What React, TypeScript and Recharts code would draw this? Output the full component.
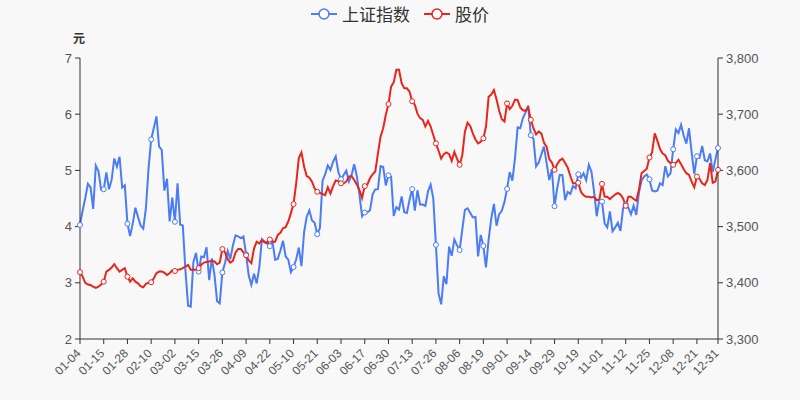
import React from 'react';
import { LineChart, Line, XAxis, YAxis } from 'recharts';

// Trading days of 2021 by month
const janDays = [4, 5, 6, 7, 8, 11, 12, 13, 14, 15, 18, 19, 20, 21, 22, 25, 26, 27, 28, 29];
const febDays = [1, 2, 3, 4, 5, 8, 9, 10, 18, 19, 22, 23, 24, 25, 26];
const marDays = [1, 2, 3, 4, 5, 8, 9, 10, 11, 12, 15, 16, 17, 18, 19, 22, 23, 24, 25, 26, 29, 30, 31];
const aprDays = [1, 2, 6, 7, 8, 9, 12, 13, 14, 15, 16, 19, 20, 21, 22, 23, 26, 27, 28, 29, 30];
const mayDays = [6, 7, 10, 11, 12, 13, 14, 17, 18, 19, 20, 21, 24, 25, 26, 27, 28, 31];
const junDays = [1, 2, 3, 4, 7, 8, 9, 10, 11, 15, 16, 17, 18, 21, 22, 23, 24, 25, 28, 29, 30];
const julDays = [1, 2, 5, 6, 7, 8, 9, 12, 13, 14, 15, 16, 19, 20, 21, 22, 23, 26, 27, 28, 29, 30];
const augDays = [2, 3, 4, 5, 6, 9, 10, 11, 12, 13, 16, 17, 18, 19, 20, 23, 24, 25, 26, 27, 30, 31];
const sepDays = [1, 2, 3, 6, 7, 8, 9, 10, 13, 14, 15, 16, 17, 22, 23, 24, 27, 28, 29, 30];
const octDays = [8, 11, 12, 13, 14, 15, 18, 19, 20, 21, 22, 25, 26, 27, 28, 29];
const novDays = [1, 2, 3, 4, 5, 8, 9, 10, 11, 12, 15, 16, 17, 18, 19, 22, 23, 24, 25, 26, 29, 30];
const decDays = [1, 2, 3, 6, 7, 8, 9, 10, 13, 14, 15, 16, 17, 20, 21, 22, 23, 24, 27, 28, 29, 30, 31];
const monthDays = [janDays, febDays, marDays, aprDays, mayDays, junDays, julDays, augDays, sepDays, octDays, novDays, decDays];

const tickLabels = [
  '01-04', '01-15', '01-28', '02-10', '03-02', '03-15', '03-26', '04-09', '04-22', '05-10',
  '05-21', '06-03', '06-17', '06-30', '07-13', '07-26', '08-06', '08-19', '09-01', '09-14',
  '09-29', '10-19', '11-01', '11-12', '11-25', '12-08', '12-21', '12-31',
];

const indexValues = [
  3502.96, 3528.68, 3550.88, 3576.2, 3570.11, 3531.5, 3608.34, 3598.65, 3565.9, 3566.38,
  3596.22, 3566.28, 3583.09, 3621.26, 3606.75, 3624.24, 3569.43, 3573.34, 3505.18, 3483.07,
  3505.28, 3533.68, 3517.31, 3501.86, 3496.33, 3532.71, 3603.49, 3655.09, 3675.36, 3696.17,
  3642.44, 3636.36, 3564.08, 3585.05, 3509.08, 3551.4, 3508.59, 3576.9, 3503.49, 3501.99,
  3421.41, 3359.29, 3357.74, 3436.83, 3453.08, 3419.95, 3446.73, 3445.55, 3463.07, 3404.66,
  3443.44, 3414.41, 3367.06, 3363.59, 3418.33, 3435.3, 3456.68, 3441.91, 3466.33, 3484.39,
  3482.48, 3479.63, 3482.55, 3450.68, 3412.95, 3396.47, 3416.0, 3398.99, 3426.62, 3477.55,
  3472.94, 3472.93, 3465.11, 3474.17, 3441.17, 3442.61, 3457.07, 3474.9, 3446.86, 3441.28,
  3418.87, 3427.99, 3441.85, 3462.75, 3429.54, 3490.38, 3517.62, 3529.01, 3510.96, 3506.94,
  3486.56, 3497.28, 3581.34, 3593.36, 3608.85, 3600.78, 3615.48, 3624.71, 3597.14, 3584.22,
  3591.84, 3599.54, 3580.11, 3591.4, 3610.86, 3589.75, 3556.56, 3518.33, 3525.1, 3525.6,
  3529.18, 3557.41, 3566.22, 3566.65, 3607.56, 3606.37, 3573.18, 3591.2, 3588.78, 3518.76,
  3534.32, 3530.26, 3553.72, 3525.5, 3524.09, 3547.84, 3566.71, 3528.5, 3564.59, 3539.3,
  3539.12, 3536.79, 3562.7, 3574.73, 3550.4, 3467.44, 3381.18, 3361.59, 3411.72, 3397.36,
  3464.29, 3447.99, 3477.22, 3466.56, 3458.23, 3494.63, 3529.93, 3532.62, 3524.74, 3516.3,
  3517.34, 3446.98, 3485.29, 3465.55, 3427.33, 3477.13, 3514.47, 3540.38, 3501.66, 3522.16,
  3528.15, 3543.94, 3567.1, 3597.04, 3581.73, 3621.86, 3676.59, 3675.19, 3693.13, 3703.11,
  3715.37, 3662.6, 3656.22, 3607.09, 3613.97, 3628.49, 3642.22, 3613.07, 3582.83, 3602.22,
  3536.29, 3568.17, 3592.17, 3591.71, 3546.94, 3561.76, 3558.28, 3572.37, 3568.14, 3593.15,
  3587.0, 3594.78, 3582.6, 3609.86, 3597.64, 3562.31, 3518.42, 3547.34, 3544.48, 3505.63,
  3498.54, 3526.87, 3491.57, 3498.63, 3507.0, 3492.46, 3532.79, 3539.1, 3533.3, 3521.79,
  3537.37, 3520.71, 3560.37, 3582.08, 3589.09, 3592.7, 3584.18, 3564.09, 3562.7, 3563.89,
  3576.89, 3573.84, 3607.43, 3589.31, 3595.09, 3637.57, 3673.04, 3666.35, 3681.08, 3661.53,
  3647.63, 3675.02, 3632.36, 3593.6, 3625.13, 3622.62, 3643.34, 3618.05, 3615.97, 3630.11,
  3597.0, 3619.19, 3639.78,
];

const priceValues = [
  3.19, 3.11, 3.0, 2.97, 2.96, 2.93, 2.91, 2.93, 2.97, 3.02,
  3.2, 3.23, 3.27, 3.33, 3.26, 3.2, 3.23, 3.26, 3.11, 3.02,
  3.08, 3.02, 2.99, 2.94, 2.92, 2.98, 3.0, 3.01, 3.08, 3.17,
  3.2, 3.2, 3.18, 3.14, 3.17, 3.22, 3.21, 3.23, 3.24, 3.26,
  3.29, 3.32, 3.23, 3.23, 3.23, 3.26, 3.32, 3.36, 3.37, 3.38,
  3.39, 3.38, 3.33, 3.36, 3.6, 3.54, 3.42, 3.36, 3.39, 3.54,
  3.6, 3.6, 3.54, 3.49, 3.4, 3.35, 3.61, 3.73, 3.7, 3.76,
  3.72, 3.7, 3.77, 3.73, 3.73, 3.85, 3.89, 3.97, 3.99, 4.09,
  4.24, 4.4, 4.77, 5.22, 5.32, 5.07, 4.9, 4.87, 4.8, 4.68,
  4.62, 4.6, 4.58, 4.56, 4.7, 4.59, 4.72, 4.82, 4.81, 4.77,
  4.77, 4.8, 4.89, 4.9, 4.83, 4.75, 4.65, 4.51, 4.72, 4.75,
  4.86, 4.93, 4.98, 5.3, 5.6, 5.75, 5.99, 6.18, 6.49, 6.57,
  6.79, 6.79, 6.55, 6.46, 6.46, 6.4, 6.23, 6.17, 6.01, 5.93,
  5.9, 5.78, 5.88, 5.78, 5.63, 5.48, 5.35, 5.21, 5.29, 5.32,
  5.29, 5.17, 5.33, 5.21, 5.1, 5.27, 5.69, 5.85, 5.79, 5.66,
  5.55, 5.48, 5.51, 5.57, 5.78, 6.31, 6.35, 6.43, 6.26, 6.06,
  5.91, 5.87, 6.19, 6.09, 6.15, 6.26, 6.25, 6.12, 6.07, 6.06,
  6.12, 5.9, 5.75, 5.64, 5.69, 5.66, 5.49, 5.42, 5.2, 5.14,
  5.01, 5.11, 5.18, 5.21, 5.13, 5.05, 4.9, 4.77, 4.77, 4.78,
  4.62, 4.56, 4.53, 4.53, 4.52, 4.53, 4.47, 4.48, 4.76, 4.53,
  4.53, 4.49, 4.53, 4.57, 4.6, 4.57, 4.5, 4.37, 4.53, 4.53,
  4.49, 4.46, 4.65, 4.95, 4.99, 5.03, 5.23, 5.32, 5.66, 5.53,
  5.38, 5.3, 5.27, 5.17, 5.13, 5.1, 5.13, 5.19, 5.11, 5.02,
  4.95, 4.92, 4.8, 4.7, 4.89, 4.85, 4.77, 4.74, 4.83, 5.13,
  4.78, 4.8, 5.01,
];

const leftTicks = [2, 3, 4, 5, 6, 7];
const rightTicks = [3300, 3400, 3500, 3600, 3700, 3800];

const BLUE = '#4a7cf6';
const RED = '#e8251b';
const FONT = '"Liberation Sans", Arial, "Noto Sans CJK SC", sans-serif';

const dates: string[] = [];
monthDays.forEach((days, m) => {
  days.forEach((d) => {
    dates.push(`${String(m + 1).padStart(2, '0')}-${String(d).padStart(2, '0')}`);
  });
});

const data = dates.map((date, i) => ({ date, index: indexValues[i], price: priceValues[i] }));
const markerSet = new Set(tickLabels);

const makeDot = (color: string) => (props: any) => {
  const { cx, cy, index, payload } = props;
  if (!markerSet.has(payload.date)) return <g key={`d-${index}`} />;
  return <circle key={`d-${index}`} cx={cx} cy={cy} r={2.5} fill="#fff" stroke={color} strokeWidth={1} />;
};

const XTick = (props: any) => {
  const { x, y, payload } = props;
  return (
    <g transform={`translate(${x - 1.5},${y + 5})`}>
      <text x={0} y={0} dy="0.35em" textAnchor="end" fill="#555" fontSize={12} fontFamily={FONT} transform="rotate(-45)">
        {payload.value}
      </text>
    </g>
  );
};

const LegendIcon = ({ color }: { color: string }) => (
  <svg width={26} height={14} style={{ display: 'block' }}>
    <line x1={0} y1={7} x2={26} y2={7} stroke={color} strokeWidth={2} />
    <circle cx={13} cy={7} r={5} fill="#fff" stroke={color} strokeWidth={1.5} />
  </svg>
);

export default function App() {
  return (
    <div style={{ position: 'absolute', left: 0, top: 0, width: 800, height: 400, background: '#f8f8f8', fontFamily: FONT }}>
      <div style={{ position: 'absolute', top: 1, left: 0, width: 800, display: 'flex', justifyContent: 'center', alignItems: 'center', color: '#333', fontSize: 17, fontFamily: '"Noto Sans CJK SC", sans-serif' }}>
        <LegendIcon color={BLUE} />
        <span style={{ marginLeft: 5, marginRight: 14 }}>上证指数</span>
        <LegendIcon color={RED} />
        <span style={{ marginLeft: 5 }}>股价</span>
      </div>
      <div style={{ position: 'absolute', left: 73, top: 29, fontSize: 12, fontWeight: 'bold', color: '#333', fontFamily: '"Noto Sans CJK SC", sans-serif' }}>元</div>
      <LineChart width={800} height={400} data={data} margin={{ top: 58, right: 0, bottom: 0, left: 0 }}>
        <XAxis
          dataKey="date"
          scale="point"
          ticks={tickLabels}
          interval={0}
          tick={<XTick />}
          tickSize={5}
          height={61}
          axisLine={{ stroke: '#333' }}
          tickLine={{ stroke: '#333' }}
        />
        <YAxis
          yAxisId="left"
          orientation="left"
          domain={[2, 7]}
          ticks={leftTicks}
          width={80}
          tickSize={5}
          tickMargin={3}
          axisLine={{ stroke: '#333' }}
          tickLine={{ stroke: '#333' }}
          tick={{ fill: '#555', fontSize: 13, fontFamily: FONT }}
        />
        <YAxis
          yAxisId="right"
          orientation="right"
          domain={[3300, 3800]}
          ticks={rightTicks}
          width={82}
          tickSize={5}
          tickMargin={3}
          tickFormatter={(v: number) => v.toLocaleString('en-US')}
          axisLine={{ stroke: '#333' }}
          tickLine={{ stroke: '#333' }}
          tick={{ fill: '#555', fontSize: 13, fontFamily: FONT }}
        />
        <Line
          yAxisId="right"
          type="linear"
          dataKey="index"
          name="上证指数"
          stroke={BLUE}
          strokeWidth={2}
          dot={makeDot(BLUE)}
          activeDot={false}
          isAnimationActive={false}
        />
        <Line
          yAxisId="left"
          type="linear"
          dataKey="price"
          name="股价"
          stroke={RED}
          strokeWidth={2}
          dot={makeDot(RED)}
          activeDot={false}
          isAnimationActive={false}
        />
      </LineChart>
    </div>
  );
}
